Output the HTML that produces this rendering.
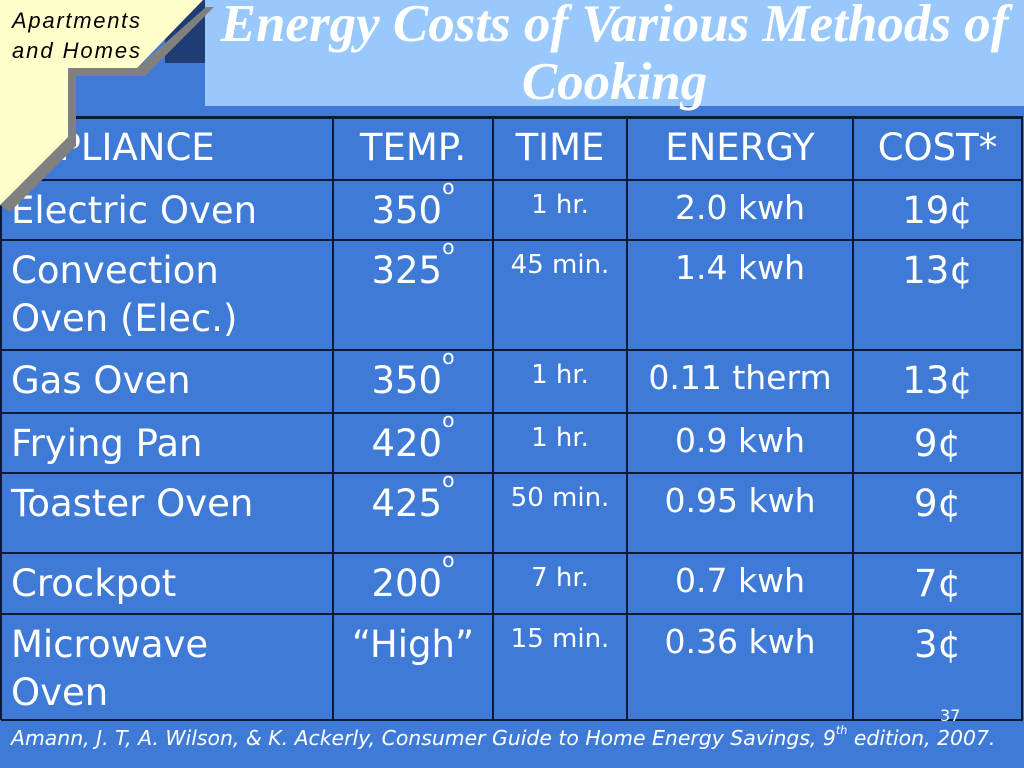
<!DOCTYPE html>
<html><head><meta charset="utf-8"><style>
body{margin:0;width:1024px;height:768px;overflow:hidden;background:#3f7bd6;position:relative;font-family:"DejaVu Sans","Liberation Sans",sans-serif;color:#fff}
.a{position:absolute}
.c{position:absolute;box-sizing:border-box;white-space:nowrap;line-height:48px}
.hl{position:absolute;left:1px;width:1022px;height:2px;background:#0a1a3a}
.vl{position:absolute;top:117px;height:603px;width:2px;background:#0a1a3a}
sup{font-size:55%;vertical-align:top;position:relative;top:-10px;line-height:1}
.cit sup{top:-1px}
</style></head><body>
<div class="a" style="left:165px;top:0;width:45px;height:63px;background:#1f3d73"></div>
<div class="a" style="left:205px;top:0;width:819px;height:106px;background:#99c9fc"></div>
<div class="a" style="left:205px;top:-5px;width:819px;text-align:center;font-family:'Liberation Serif',serif;font-style:italic;font-weight:bold;font-size:53px;line-height:58px">Energy Costs of Various Methods of<br>Cooking</div>
<div id="tbl"></div>
<div class="a cit" style="left:11px;top:726px;font-style:italic;font-size:20.4px">Amann, J. T, A. Wilson, &amp; K. Ackerly, Consumer Guide to Home Energy Savings, 9<sup>th</sup> edition, 2007.</div>
<div class="a" style="left:940px;top:706px;font-size:16px">37</div>
<svg class="a" style="left:0;top:0" width="220" height="220">
<polygon points="10,212 76,146 76,76 145,76 214,7 206,7 137,68 68,68 68,137 0,205" fill="#808080"/>
<polygon points="0,0 203,0 137,68 68,68 68,137 0,205" fill="#ffffcc"/>
<text x="12" y="28" font-family="Liberation Sans" font-style="italic" font-size="22" textLength="128" fill="#000">Apartments</text>
<text x="12" y="58" font-family="Liberation Sans" font-style="italic" font-size="22" textLength="128" fill="#000">and Homes</text>
</svg>
<script>
const cols=[1,333,493,627,853,1022];
const rowTops=[117,180,240,350,413,473,553,614,720];
const headers=["APPLIANCE","TEMP.","TIME","ENERGY","COST*"];
const appliances=["Electric Oven","Convection<br>Oven (Elec.)","Gas Oven","Frying Pan","Toaster Oven","Crockpot","Microwave<br>Oven"];
const temps=["350<sup>o</sup>","325<sup>o</sup>","350<sup>o</sup>","420<sup>o</sup>","425<sup>o</sup>","200<sup>o</sup>","“High”"];
const times=["1 hr.","45 min.","1 hr.","1 hr.","50 min.","7 hr.","15 min."];
const energies=["2.0 kwh","1.4 kwh","0.11 therm","0.9 kwh","0.95 kwh","0.7 kwh","0.36 kwh"];
const costs=["19¢","13¢","13¢","9¢","9¢","7¢","3¢"];
const t=document.getElementById('tbl');
function cell(html,ci,ri,size,align,dy,name){
 const d=document.createElement('div');d.className='c';
 
 
 d.style.left=(cols[ci]+(align==='left'?10:0))+'px';d.style.width=(cols[ci+1]-cols[ci])+'px';
 d.style.top=(rowTops[ri]+dy)+'px';d.style.fontSize=size+'px';d.style.textAlign=align;
 d.innerHTML=html;t.appendChild(d);
}
headers.forEach((h,i)=>cell(h,i,0,37,i===0?'left':'center',7,'header-'+h.toLowerCase().replace(/[^a-z]/g,'')));
for(let r=0;r<appliances.length;r++){
 cell(appliances[r],0,r+1,37,'left',7,'appliance-cell');
 cell(temps[r],1,r+1,37,'center',7,'temp-cell');
 cell(times[r],2,r+1,26,'center',1,'time-cell');
 cell(energies[r],3,r+1,33,'center',4,'energy-cell');
 cell(costs[r],4,r+1,37,'center',7,'cost-cell');
}
rowTops.forEach((y,i)=>{const l=document.createElement('div');l.className='hl';
 
 
 l.style.top=(y-1)+'px';if(i===0)l.style.height='3px';t.appendChild(l);});
cols.forEach(x=>{const l=document.createElement('div');l.className='vl';
 
 
 l.style.left=(x-1)+'px';t.appendChild(l);});
</script>
</body></html>
